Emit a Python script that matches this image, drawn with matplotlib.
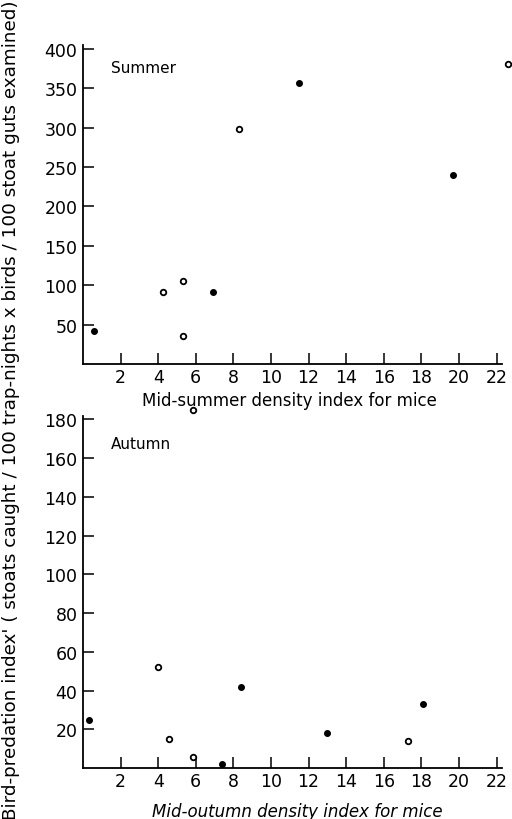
import matplotlib.pyplot as plt

# summer panel
sum_filled_x = [0.6, 6.9, 11.5, 19.7]
sum_filled_y = [42, 91, 357, 240]
sum_open_x = [4.25, 5.3, 5.3, 8.3, 22.6]
sum_open_y = [91, 105, 36, 298, 381]

# autumn panel
aut_filled_x = [0.3, 7.4, 8.4, 13.0, 18.1]
aut_filled_y = [25, 2, 42, 18, 33]
aut_open_x = [4.0, 4.6, 5.85, 17.3, 5.85]
aut_open_y = [52, 15, 6, 14, 185]

xticks = [2, 4, 6, 8, 10, 12, 14, 16, 18, 20, 22]
sum_yticks = [50, 100, 150, 200, 250, 300, 350, 400]
aut_yticks = [20, 40, 60, 80, 100, 120, 140, 160, 180]

fig = plt.figure(figsize=(5.12, 8.2), dpi=100)
ax1 = fig.add_axes([0.162, 0.555, 0.819, 0.389])
ax2 = fig.add_axes([0.162, 0.062, 0.819, 0.430])


def style(ax, ymax, yticks):
    ax.set_xlim(0, 22.3)
    ax.set_ylim(0, ymax)
    ax.spines['top'].set_visible(False)
    ax.spines['right'].set_visible(False)
    ax.spines['left'].set_linewidth(1.3)
    ax.spines['bottom'].set_linewidth(1.3)
    ax.set_xticks(xticks)
    ax.set_yticks(yticks)
    ax.tick_params(direction='in', length=8, width=1.1, labelsize=12.5, pad=4)
    ax.tick_params(axis='x', pad=3)


style(ax1, 405, sum_yticks)
style(ax2, 182, aut_yticks)

ax1.scatter(sum_filled_x, sum_filled_y, s=16, c='black', clip_on=False, zorder=3)
ax1.scatter(sum_open_x, sum_open_y, s=16, facecolors='white', edgecolors='black',
            linewidths=1.3, clip_on=False, zorder=3)
ax2.scatter(aut_filled_x, aut_filled_y, s=16, c='black', clip_on=False, zorder=3)
ax2.scatter(aut_open_x, aut_open_y, s=16, facecolors='white', edgecolors='black',
            linewidths=1.3, clip_on=False, zorder=3)

ax1.text(1.5, 370, 'Summer', fontsize=11)
ax2.text(1.5, 165, 'Autumn', fontsize=11)

fig.text(0.565, 0.511, 'Mid-summer density index for mice', ha='center', va='center',
         fontsize=12)
fig.text(0.58, 0.010, 'Mid-outumn density index for mice', ha='center', va='center',
         fontsize=12, style='italic')
fig.text(0.022, 0.5, "Bird-predation index' ( stoats caught / 100 trap-nights x birds / 100 stoat guts examined)",
         rotation=90, ha='center', va='center', fontsize=13.2)

fig.savefig('out.png', dpi=100)
